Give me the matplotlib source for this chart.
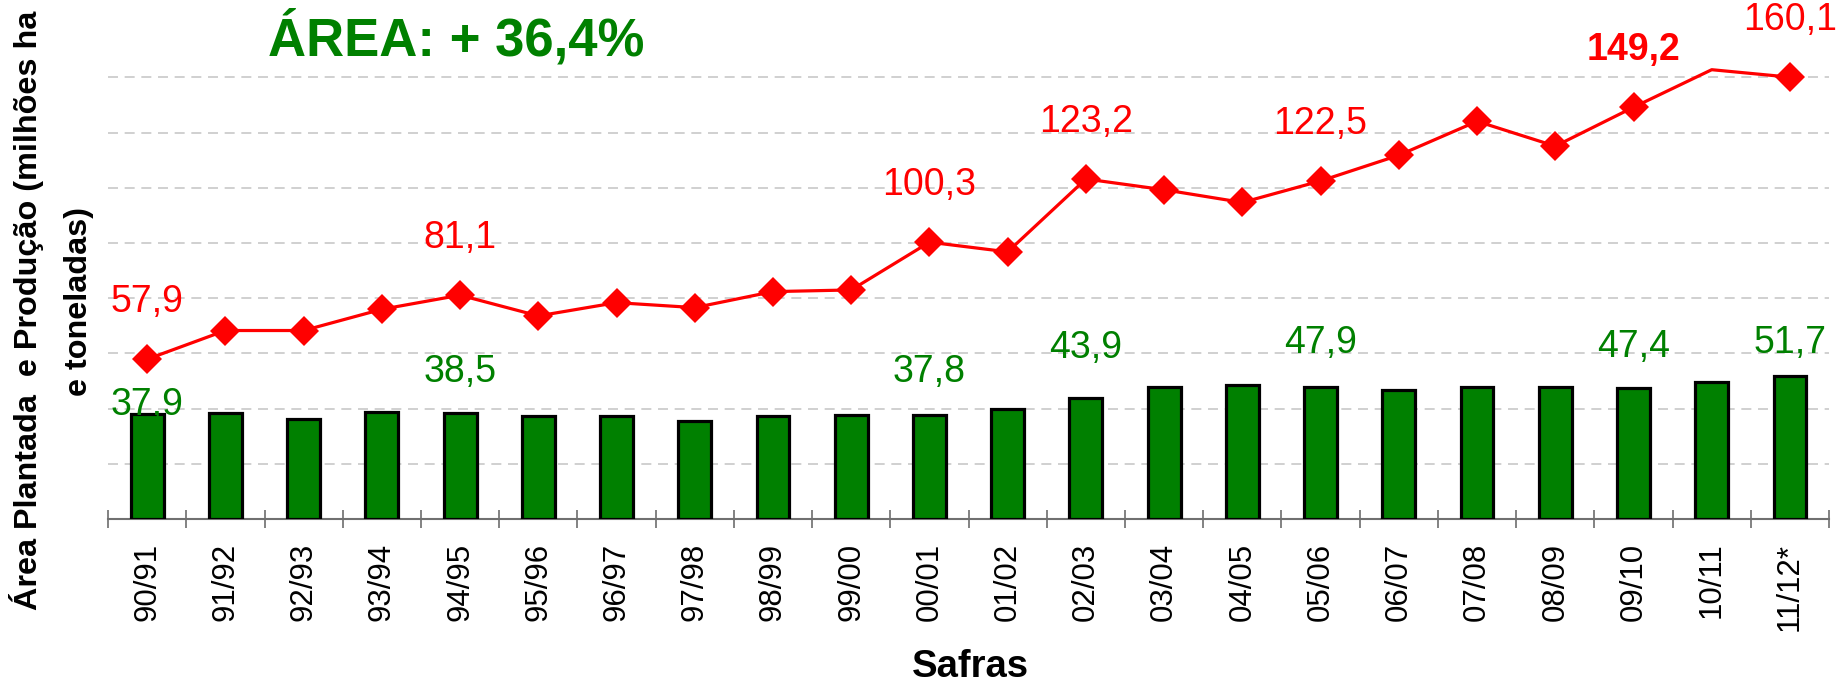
import matplotlib.pyplot as plt
import numpy as np

plt.rcParams['font.family'] = ['Liberation Sans', 'DejaVu Sans']

# safras e valores (area em milhoes ha, producao em milhoes t)
safras = ["90/91", "91/92", "92/93", "93/94", "94/95", "95/96", "96/97", "97/98",
          "98/99", "99/00", "00/01", "01/02", "02/03", "03/04", "04/05", "05/06",
          "06/07", "07/08", "08/09", "09/10", "10/11", "11/12*"]
area = [37.9, 38.5, 36.2, 38.9, 38.5, 37.5, 37.2, 35.5, 37.2, 37.8, 37.8,
        39.8, 43.9, 47.7, 48.6, 47.9, 46.6, 47.7, 47.7, 47.4, 49.5, 51.7]
producao = [57.9, 68.3, 68.3, 76.0, 81.1, 73.6, 78.4, 76.6, 82.4, 83.0, 100.3,
            96.8, 123.2, 119.3, 114.7, 122.5, 131.8, 144.1, 135.1, 149.2, 162.8, 160.1]

# safras com rotulo
rotulos_idx = [0, 4, 10, 12, 15, 19, 21]
# deslocamento vertical dos rotulos verdes (pontos)
desloc_area = [6.5, 29.5, 31, 36, 31.5, 30, 24]

verde = '#008000'
vermelho = '#FF0000'

fig = plt.figure(figsize=(18.47, 6.86), dpi=100)
ax = fig.add_axes([0.0585, 0.2434, 0.9318, 0.7242])

x = np.arange(len(safras))
ax.bar(x, area, width=0.42, color=verde, edgecolor='black', linewidth=2.3, zorder=3)

# 10/11 sem marcador, como no original
marcas = [i for i in range(len(safras)) if i != 20]
ax.plot(x, producao, color=vermelho, linewidth=2.3, marker='D', markersize=15,
        markeredgewidth=0, markevery=marcas, zorder=4)


def fmt(v):
    return f"{v:.1f}".replace(".", ",")


for k, i in enumerate(rotulos_idx):
    peso = 'bold' if i == 19 else 'normal'
    ax.annotate(fmt(producao[i]), (x[i], producao[i]), xytext=(0, 41),
                textcoords='offset points', ha='center', va='center',
                fontsize=27, color=vermelho, fontweight=peso, annotation_clip=False)
    ax.annotate(fmt(area[i]), (x[i], area[i]), xytext=(0, desloc_area[k]),
                textcoords='offset points', ha='center', va='center',
                fontsize=27, color=verde, zorder=5, annotation_clip=False)

ax.set_xlim(-0.5, len(safras) - 0.5)
ax.set_ylim(0, 180)

# grade horizontal tracejada
ax.set_yticks(range(20, 161, 20))
ax.yaxis.grid(True, linestyle=(0, (6, 4)), color='#c8c8c8', linewidth=1.2, zorder=0)
ax.tick_params(axis='y', length=0, labelleft=False)

# ticks nas divisas, rotulos no centro
ax.set_xticks(np.arange(-0.5, len(safras), 1))
ax.set_xticklabels([])
ax.tick_params(axis='x', which='major', direction='inout', length=13, width=1.1,
               color='#606060')
ax.set_xticks(x, minor=True)
ax.set_xticklabels(safras, minor=True, rotation=90, fontsize=22.5)
ax.tick_params(axis='x', which='minor', length=0, pad=17)

for s in ['top', 'right', 'left']:
    ax.spines[s].set_visible(False)
ax.spines['bottom'].set_color('#707070')
ax.spines['bottom'].set_linewidth(1.5)

fig.text(456 / 1847, 1 - 55 / 686, "ÁREA: + 36,4%", ha='center', va='baseline',
         fontsize=38, fontweight='bold', color=verde)
fig.text(27 / 1847, 1 - 310 / 686, "Área Plantada  e Produção (milhões ha",
         rotation=90, ha='center', va='center', fontsize=23.3, fontweight='bold')
fig.text(79 / 1847, 1 - 302 / 686, "e toneladas)",
         rotation=90, ha='center', va='center', fontsize=23.3, fontweight='bold')
fig.text(970 / 1847, 1 - 677 / 686, "Safras", ha='center', va='baseline',
         fontsize=27.5, fontweight='bold')

fig.savefig("out.png", dpi=100)
